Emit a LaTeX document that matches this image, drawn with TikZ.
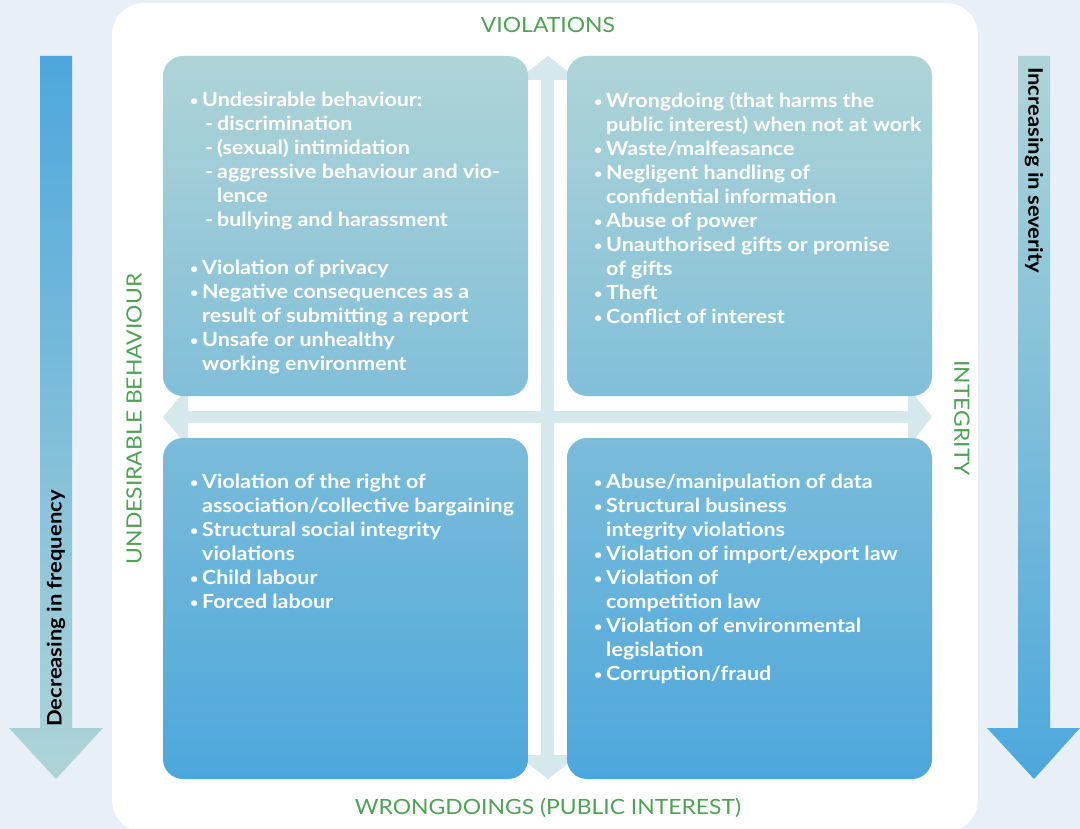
\documentclass[tikz,border=0pt]{standalone}
\usepackage{fontspec}
\setmainfont{Lato}
\newfontfamily\wide[FakeStretch=1.1]{Lato}
\newfontfamily\widelab[FakeStretch=1.09]{Lato}
\usepackage{tikz}
\usetikzlibrary{positioning,calc}

\definecolor{bgblue}{HTML}{E8EFF6}
\definecolor{qteal}{HTML}{AFD4D7}
\definecolor{qblue}{HTML}{4DA7DC}
\definecolor{qmidA}{RGB}{129,191,217}
\definecolor{qmidB}{RGB}{123,188,218}
\definecolor{crossc}{HTML}{D5E8EC}
\definecolor{axisgreen}{HTML}{4FA155}

\newcommand\bl{\makebox[12pt][l]{\raisebox{1.5pt}{\fontsize{13}{13}\selectfont\textbullet}}}
\newcommand\ind{\hspace*{12pt}}
\newcommand\sub{\hspace*{15pt}-\hspace{4pt}}

\begin{document}
\begin{tikzpicture}[x=1pt,y=-1pt,
	quad/.style={rounded corners=20pt},
	qtext/.style={anchor=north west,inner sep=0pt,align=left,text=white,font=\wide\bfseries\fontsize{19.5}{24}\selectfont},
	axis/.style={text=axisgreen,inner sep=0pt,font=\widelab\fontsize{21}{24}\selectfont},
	side/.style={inner sep=0pt,anchor=west,text=black,font=\wide\bfseries\fontsize{20}{22}\selectfont}]
		\useasboundingbox (0,0) rectangle (1080,829);
		\fill[bgblue] (0,0) rectangle (1080,829);
		\fill[white,rounded corners=32pt] (112,3) rectangle (978,832);
		
		\shade[top color=qblue,bottom color=qteal] (40,56) -- (72,56) -- (72,728) -- (103,728) -- (56,779) -- (9,728) -- (40,728) -- cycle;
		\shade[top color=qteal,bottom color=qblue] (1018,56) -- (1050,56) -- (1050,728) -- (1080,728) -- (1034,779) -- (987,728) -- (1018,728) -- cycle;
		\node[side,rotate=90] (freq) at (56,727) {Decreasing in frequency};
		\node[side,rotate=-90] (sev) at (1034,67) {Increasing in severity};
		
		\fill[crossc] (541,80) -- (517,80) -- (548,56) -- (579,80) -- (554,80) -- (554,755) -- (579,755) -- (548,779) -- (517,755) -- (541,755) -- cycle;
		\fill[crossc] (188,411) -- (188,387) -- (163,417) -- (188,447) -- (188,423) -- (908,423) -- (908,447) -- (932,417) -- (908,387) -- (908,411) -- cycle;
		
		\shade[quad,top color=qteal,bottom color=qmidA] (163,56) rectangle (528,396);
		\shade[quad,top color=qteal,bottom color=qmidA] (567,56) rectangle (932,396);
		\shade[quad,top color=qmidB,bottom color=qblue] (163,438) rectangle (528,779);
		\shade[quad,top color=qmidB,bottom color=qblue] (567,438) rectangle (932,779);
		
		\node[qtext] (tl) at (190,92) {\bl Undesirable behaviour:\\
			\sub discrimination\\
			\sub (sexual) intimidation\\
			\sub aggressive behaviour and vio-\\
			\hspace*{27pt}lence\\
			\sub bullying and harassment\\[24pt]
			\bl Violation of privacy\\
			\bl Negative consequences as a\\
			\ind result of submitting a report\\
			\bl Unsafe or unhealthy\\
			\ind working environment};
		\node[qtext] (tr) at (594,92) {\bl Wrongdoing (that harms the\\
			\ind public interest) when not at work\\
			\bl Waste/malfeasance\\
			\bl Negligent handling of\\
			\ind confidential information\\
			\bl Abuse of power\\
			\bl Unauthorised gifts or promise\\
			\ind of gifts\\
			\bl Theft\\
			\bl Conflict of interest};
		\node[qtext] (bl) at (190,474) {\bl Violation of the right of\\
			\ind association/collective bargaining\\
			\bl Structural social integrity\\
			\ind violations\\
			\bl Child labour\\
			\bl Forced labour};
		\node[qtext] (br) at (594,474) {\bl Abuse/manipulation of data\\
			\bl Structural business\\
			\ind integrity violations\\
			\bl Violation of import/export law\\
			\bl Violation of\\
			\ind competition law\\
			\bl Violation of environmental\\
			\ind legislation\\
			\bl Corruption/fraud};
		
		\node[axis] (viol) at (548,25) {VIOLATIONS};
		\node[axis] (wrong) at (548,808) {WRONGDOINGS (PUBLIC INTEREST)};
		\node[axis,rotate=90] (undes) at (134,419) {UNDESIRABLE BEHAVIOUR};
		\node[axis,rotate=-90] (integ) at (962,418) {INTEGRITY};
	\end{tikzpicture}
\end{document}
